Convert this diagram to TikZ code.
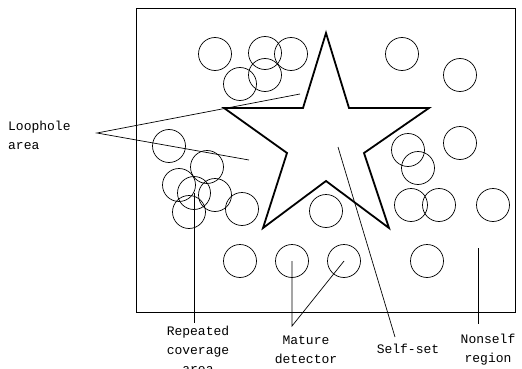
\documentclass[tikz,border=0pt]{standalone}
\usepackage{fontspec}
\setmainfont{Liberation Mono}
\usetikzlibrary{positioning,calc}
\tikzset{
  det/.style={circle,draw=black,line width=0.7pt,minimum size=33pt,inner sep=0pt},
  selfset/.style={draw=black,line width=1.8pt,line join=miter},
  frame/.style={draw=black,line width=0.8pt},
  lead/.style={draw=black,line width=0.7pt},
  lbl/.style={align=center,inner sep=0pt,font=\fontsize{13}{19}\selectfont}
}
\begin{document}
\begin{tikzpicture}[x=1pt,y=-1pt]
  \useasboundingbox (0,0) rectangle (522,369);

  % space and self-set
  \draw[frame] (136,8) rectangle (515,312);
  \draw[selfset] (326,33) -- (349,108) -- (429,108) -- (364,153) -- (389,228)
    -- (326,181) -- (263,228) -- (287,153) -- (224,108) -- (303,108) -- cycle;

  % detectors
  \foreach \nm/\x/\y in {t1/215/54, t2/265/53, t3/291/54, t4/240/84, t5/265/75,
      t6/402/54, t7/460/75, r1/460/143, r2/408/150, r3/418/168,
      r4/411/205, r5/439/205, r6/493/205,
      c1/169/146, c2/207/167, c3/179/185, c4/194/193, c5/215/195,
      c6/189/212, c7/242/209, m1/326/211,
      b1/240/261, b2/292/261, b3/344/261, b4/427/261}
    \node[det] (\nm) at (\x,\y) {};

  % labels
  \node[lbl,align=left,anchor=west] (hole) at (8,135) {Loophole\\area};
  \node[lbl] (rep) at (198,350) {Repeated\\coverage\\area};
  \node[lbl] (mat) at (306,350) {Mature\\detector};
  \node[lbl] (self) at (408,349) {Self-set};
  \node[lbl] (nons) at (488,350) {Nonself\\region};

  % leaders
  \coordinate (holeA) at (97,133);
  \coordinate (holeB) at (300,94);
  \coordinate (holeC) at (249,160);
  \draw[lead] (holeB) -- (holeA) -- (holeC);
  \draw[lead] (c4.center) -- (194,323);
  \coordinate (matA) at (292,326);
  \draw[lead] (b2.center) -- (matA) -- (b3.center);
  \coordinate (selfA) at (338,147);
  \draw[lead] (selfA) -- (395,337);
  \coordinate (nonsA) at (478,248);
  \draw[lead] (nonsA) -- (478,324);
\end{tikzpicture}
\end{document}
